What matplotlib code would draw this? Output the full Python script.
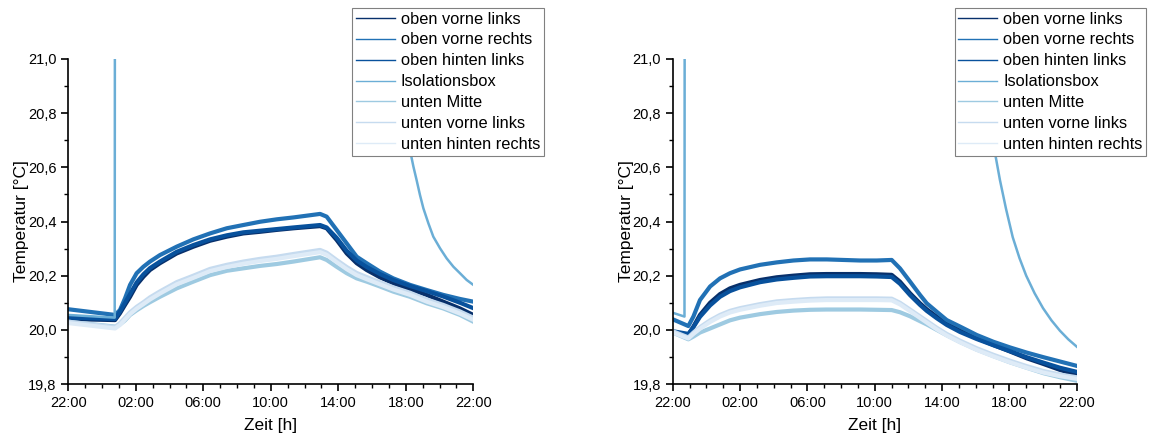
import numpy as np
import matplotlib
matplotlib.use("Agg")
import matplotlib.pyplot as plt
from matplotlib.ticker import MultipleLocator, FuncFormatter

plt.rcParams['font.family'] = ['Liberation Sans', 'DejaVu Sans']

names = ["oben vorne links", "oben vorne rechts", "oben hinten links", "Isolationsbox",
         "unten Mitte", "unten vorne links", "unten hinten rechts"]
colors = ["#08306b", "#2171b5", "#08519c", "#6baed6", "#9ecae1", "#c6dbef", "#deebf7"]

# hours since 22:00
xticks = [0, 4, 8, 12, 16, 20, 24]
xlabels = ["22:00", "02:00", "06:00", "10:00", "14:00", "18:00", "22:00"]

# left panel
t_l = [0, 2.77, 3.06, 3.36, 3.66, 4.05, 4.45, 4.84, 5.43, 6.42, 7.41, 8.4, 9.39, 10.37, 11.36,
       12.35, 13.34, 14.92, 15.31, 15.9, 16.5, 17.09, 17.68, 18.47, 19.26, 20.25, 21.24, 22.22, 23.21, 24]
left = {
    "oben vorne links":   [20.04, 20.036, 20.061, 20.092, 20.122, 20.166, 20.196, 20.221, 20.246, 20.282, 20.307, 20.329, 20.344, 20.356, 20.362,
                           20.369, 20.375, 20.383, 20.375, 20.332, 20.282, 20.246, 20.221, 20.194, 20.172, 20.15, 20.129, 20.104, 20.079, 20.055],
    "oben vorne rechts":  [20.076, 20.055, 20.073, 20.116, 20.166, 20.209, 20.233, 20.252, 20.276, 20.307, 20.334, 20.356, 20.375, 20.387, 20.399,
                           20.408, 20.415, 20.428, 20.418, 20.369, 20.319, 20.27, 20.246, 20.215, 20.19, 20.166, 20.147, 20.129, 20.114, 20.104],
    "oben hinten links":  [20.045, 20.04, 20.068, 20.1, 20.132, 20.175, 20.205, 20.228, 20.252, 20.288, 20.313, 20.334, 20.349, 20.36, 20.366,
                           20.372, 20.378, 20.387, 20.378, 20.34, 20.292, 20.256, 20.232, 20.206, 20.184, 20.162, 20.143, 20.123, 20.1, 20.08],
    "unten Mitte":        [20.03, 20.012, 20.02, 20.035, 20.055, 20.072, 20.088, 20.102, 20.122, 20.153, 20.178, 20.202, 20.218, 20.227, 20.236,
                           20.243, 20.252, 20.268, 20.258, 20.233, 20.209, 20.19, 20.178, 20.16, 20.141, 20.122, 20.098, 20.079, 20.055, 20.03],
    "unten vorne links":  [20.03, 20.01, 20.025, 20.045, 20.065, 20.085, 20.102, 20.12, 20.142, 20.176, 20.2, 20.225, 20.24, 20.252, 20.262,
                           20.27, 20.28, 20.295, 20.285, 20.258, 20.232, 20.21, 20.195, 20.176, 20.157, 20.137, 20.112, 20.092, 20.068, 20.045],
    "unten hinten rechts": [20.025, 20.005, 20.018, 20.038, 20.058, 20.078, 20.095, 20.112, 20.134, 20.168, 20.192, 20.217, 20.232, 20.244, 20.254,
                            20.262, 20.272, 20.287, 20.277, 20.25, 20.224, 20.202, 20.187, 20.168, 20.149, 20.129, 20.104, 20.084, 20.06, 20.037],
}
t_box_l = [0, 2.75, 2.78, 17.5, 18.5, 19.0, 19.5, 20.0, 20.35, 20.45, 20.64, 20.84, 21.04, 21.34,
           21.63, 22.03, 22.42, 22.82, 23.21, 23.61, 24]
box_l = [20.055, 20.045, 23.0, 23.0, 21.4, 21.08, 20.9, 20.745, 20.633, 20.603, 20.553, 20.498, 20.449, 20.393,
         20.344, 20.301, 20.264, 20.233, 20.209, 20.184, 20.166]

# right panel
t_r = [0, 0.93, 1.23, 1.62, 2.22, 2.81, 3.4, 4.0, 5.19, 6.18, 7.17, 8.16, 9.15, 10.14, 11.13, 12.12,
       13.01, 13.5, 14.1, 14.69, 15.09, 15.68, 16.28, 17.07, 18.06, 19.05, 20.04, 21.03, 22.02, 23.01, 24]
right = {
    "oben vorne links":   [19.993, 19.981, 20.012, 20.055, 20.1, 20.132, 20.153, 20.166, 20.184, 20.194, 20.2, 20.205, 20.206, 20.206, 20.206, 20.205,
                           20.203, 20.178, 20.135, 20.098, 20.076, 20.049, 20.024, 19.997, 19.969, 19.944, 19.92, 19.895, 19.874, 19.852, 19.833],
    "oben vorne rechts":  [20.039, 20.014, 20.049, 20.11, 20.16, 20.19, 20.209, 20.223, 20.24, 20.249, 20.256, 20.26, 20.26, 20.258, 20.256, 20.256,
                           20.258, 20.227, 20.178, 20.129, 20.098, 20.067, 20.036, 20.012, 19.981, 19.956, 19.935, 19.916, 19.899, 19.883, 19.867],
    "oben hinten links":  [19.995, 19.985, 20.01, 20.048, 20.09, 20.122, 20.143, 20.157, 20.176, 20.186, 20.192, 20.197, 20.198, 20.198, 20.198, 20.197,
                           20.195, 20.17, 20.128, 20.092, 20.07, 20.043, 20.018, 19.992, 19.966, 19.943, 19.921, 19.899, 19.879, 19.86, 19.845],
    "unten Mitte":        [19.99, 19.965, 19.975, 19.99, 20.005, 20.02, 20.035, 20.045, 20.058, 20.066, 20.071, 20.074, 20.075, 20.075, 20.075, 20.074,
                           20.073, 20.065, 20.05, 20.032, 20.02, 20.0, 19.98, 19.955, 19.927, 19.903, 19.88, 19.86, 19.84, 19.825, 19.812],
    "unten vorne links":  [19.995, 19.972, 19.99, 20.01, 20.035, 20.055, 20.07, 20.08, 20.095, 20.105, 20.11, 20.114, 20.116, 20.116, 20.116, 20.116,
                           20.115, 20.1, 20.075, 20.05, 20.033, 20.008, 19.985, 19.96, 19.932, 19.908, 19.886, 19.866, 19.848, 19.835, 19.825],
    "unten hinten rechts": [19.99, 19.968, 19.985, 20.004, 20.029, 20.049, 20.064, 20.074, 20.089, 20.099, 20.104, 20.108, 20.11, 20.11, 20.11, 20.11,
                            20.109, 20.094, 20.069, 20.044, 20.027, 20.002, 19.979, 19.954, 19.926, 19.902, 19.88, 19.86, 19.842, 19.829, 19.819],
}
t_box_r = [0, 0.7, 0.73, 16.0, 17.0, 18.0, 18.5, 19.0, 19.15, 19.44, 19.8, 20.2, 20.6, 21.0, 21.5,
           22.0, 22.5, 23.0, 23.5, 24]
box_r = [20.063, 20.049, 23.0, 23.0, 21.6, 21.2, 20.93, 20.71, 20.652, 20.553, 20.447, 20.342, 20.265, 20.2, 20.135,
         20.08, 20.035, 19.997, 19.965, 19.938]

fig = plt.figure(figsize=(11.5, 4.41), dpi=100)
ax1 = fig.add_axes([68.3/1150, 57/441, 405/1150, 325/441])
ax2 = fig.add_axes([672.7/1150, 57/441, 404/1150, 325/441])

panels = [(ax1, t_l, left, t_box_l, box_l, 0.306), (ax2, t_r, right, t_box_r, box_r, 0.830)]
for ax, t, data, tb, vb, lx in panels:
    for name, c in zip(names, colors):
        if name == "Isolationsbox":
            ax.plot(tb, vb, color=c, lw=1.8, label=name)
        else:
            ax.plot(t, data[name], color=c, lw=3.0, label=name)
    ax.set_xlim(0, 24)
    ax.set_ylim(19.8, 21.0)
    ax.set_xticks(xticks)
    ax.set_xticklabels(xlabels)
    ax.xaxis.set_minor_locator(MultipleLocator(1))
    ax.yaxis.set_major_locator(MultipleLocator(0.2))
    ax.yaxis.set_minor_locator(MultipleLocator(0.1))
    ax.yaxis.set_major_formatter(FuncFormatter(lambda v, p: ("%.1f" % v).replace(".", ",")))
    ax.spines['top'].set_visible(False)
    ax.spines['right'].set_visible(False)
    ax.spines['left'].set_linewidth(1.2)
    ax.spines['bottom'].set_linewidth(1.2)
    ax.tick_params(which='major', length=5, width=1.2, labelsize=10.5)
    ax.tick_params(which='minor', length=3, width=1.0)
    ax.set_xlabel("Zeit [h]", fontsize=12.5, labelpad=6)
    ax.set_ylabel("Temperatur [°C]", fontsize=12.5, labelpad=-1)
    leg = ax.legend(loc='upper left', bbox_to_anchor=(lx, 0.982), bbox_transform=fig.transFigure,
                    fontsize=11.8, frameon=True, fancybox=False, framealpha=1,
                    edgecolor='#808080', borderpad=0.22, labelspacing=0.36,
                    handlelength=2.4, handletextpad=0.35, borderaxespad=0)
    leg.get_frame().set_linewidth(0.8)
    for line in leg.get_lines():
        line.set_linewidth(1.0)

fig.savefig("out.png", dpi=100)
